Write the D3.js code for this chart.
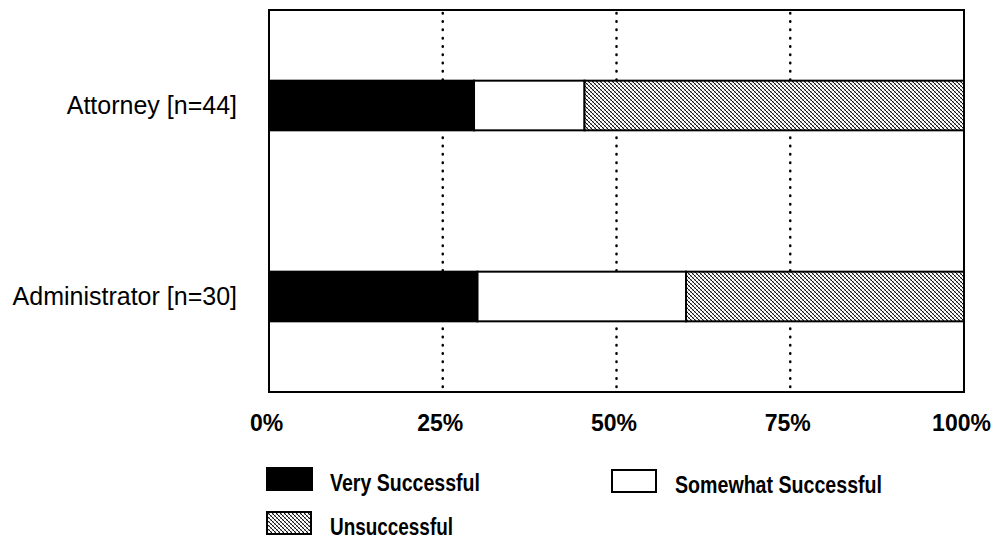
<!DOCTYPE html>
<html>
<head>
<meta charset="utf-8">
<script src="https://cdn.jsdelivr.net/npm/d3@7"></script>
<style>
  html, body { margin: 0; padding: 0; background: #fff; }
</style>
</head>
<body>
<div id="chart"></div>
<script>
// data
const categories = ["Attorney [n=44]", "Administrator [n=30]"];
const seriesNames = ["Very Successful", "Somewhat Successful", "Unsuccessful"];
const verySuccessful = [29.5, 30];
const somewhatSuccessful = [15.9, 30];
const unsuccessful = [54.6, 40];
const tickValues = [0, 25, 50, 75, 100];

const rows = categories.map((c, i) => ({
  category: c,
  "Very Successful": verySuccessful[i],
  "Somewhat Successful": somewhatSuccessful[i],
  "Unsuccessful": unsuccessful[i]
}));

const margin = { top: 10, right: 35, bottom: 148, left: 269 };
const width = 999 - margin.left - margin.right;
const height = 540 - margin.top - margin.bottom;

const svg = d3.select("#chart")
  .append("svg")
  .attr("width", 999)
  .attr("height", 540)
  .append("g")
  .attr("transform", `translate(${margin.left},${margin.top})`);

// crosshatch pattern for Unsuccessful
const defs = svg.append("defs");
const pat = defs.append("pattern")
  .attr("id", "hatch")
  .attr("patternUnits", "userSpaceOnUse")
  .attr("width", 4)
  .attr("height", 4);
pat.append("rect").attr("width", 4).attr("height", 4).attr("fill", "#fff");
pat.append("path")
  .attr("d", "M0,0 L4,4 M-1,3 L1,5 M3,-1 L5,1")
  .attr("stroke", "#111")
  .attr("stroke-width", 1);
pat.append("path")
  .attr("d", "M0,4 L4,0 M-1,1 L1,-1 M3,5 L5,3")
  .attr("stroke", "#555")
  .attr("stroke-width", 0.5);

// scales
const x = d3.scaleLinear().domain([0, 100]).range([0, width]);
const y = d3.scaleBand()
  .domain(categories)
  .range([0, height])
  .paddingInner(0.74)
  .paddingOuter(0.37);

const fills = {
  "Very Successful": "#000",
  "Somewhat Successful": "#fff",
  "Unsuccessful": "url(#hatch)"
};

// dotted gridlines
svg.selectAll(".grid")
  .data(tickValues.slice(1, -1))
  .enter()
  .append("line")
  .attr("x1", d => x(d))
  .attr("x2", d => x(d))
  .attr("y1", 3)
  .attr("y2", height)
  .attr("stroke", "#000")
  .attr("stroke-width", 2.5)
  .attr("stroke-linecap", "round")
  .attr("stroke-dasharray", "0.5,7.8");

// stacked bars
const stack = d3.stack().keys(seriesNames);
const layers = stack(rows);

svg.selectAll(".layer")
  .data(layers)
  .enter()
  .append("g")
  .attr("fill", d => fills[d.key])
  .selectAll("rect")
  .data(d => d)
  .enter()
  .append("rect")
  .attr("x", d => x(d[0]))
  .attr("y", d => y(d.data.category))
  .attr("width", d => x(d[1]) - x(d[0]))
  .attr("height", y.bandwidth())
  .attr("stroke", "#000")
  .attr("stroke-width", 2);

// frame
svg.append("rect")
  .attr("x", 0)
  .attr("y", 0)
  .attr("width", width)
  .attr("height", height)
  .attr("fill", "none")
  .attr("stroke", "#000")
  .attr("stroke-width", 2);

// category labels
svg.selectAll(".cat")
  .data(categories)
  .enter()
  .append("text")
  .attr("x", -32)
  .attr("y", d => y(d) + y.bandwidth() / 2)
  .attr("dy", "0.35em")
  .attr("text-anchor", "end")
  .style("font-family", "'Liberation Sans', Arial, sans-serif")
  .style("font-size", "25px")
  .text(d => d);

// x axis labels
const xAxis = d3.axisBottom(x)
  .tickValues(tickValues)
  .tickSize(0)
  .tickPadding(0)
  .tickFormat(d => d + "%");

const gx = svg.append("g")
  .attr("transform", `translate(0,${height})`)
  .call(xAxis);
gx.select(".domain").remove();
gx.selectAll("text")
  .attr("x", -3)
  .attr("y", 39)
  .attr("dy", 0)
  .attr("fill", "#000")
  .style("font-family", "'Liberation Sans', Arial, sans-serif")
  .style("font-size", "23px")
  .style("font-weight", "bold");

// legend
const legendItems = [
  { name: seriesNames[0], x: -2, y: 458, w: 45, textW: 150 },
  { name: seriesNames[1], x: 343, y: 460, w: 44, textW: 207 },
  { name: seriesNames[2], x: -2, y: 502, w: 44, textW: 123 }
];

const legend = svg.selectAll(".legend")
  .data(legendItems)
  .enter()
  .append("g")
  .attr("transform", d => `translate(${d.x},${d.y})`);

legend.append("rect")
  .attr("width", d => d.w)
  .attr("height", 22)
  .attr("fill", d => fills[d.name])
  .attr("stroke", "#000")
  .attr("stroke-width", 2);

legend.append("text")
  .attr("x", 63)
  .attr("y", 23)
  .attr("textLength", d => d.textW)
  .attr("lengthAdjust", "spacingAndGlyphs")
  .style("font-family", "'Liberation Sans', Arial, sans-serif")
  .style("font-size", "23px")
  .style("font-weight", "bold")
  .text(d => d.name);
</script>
</body>
</html>
